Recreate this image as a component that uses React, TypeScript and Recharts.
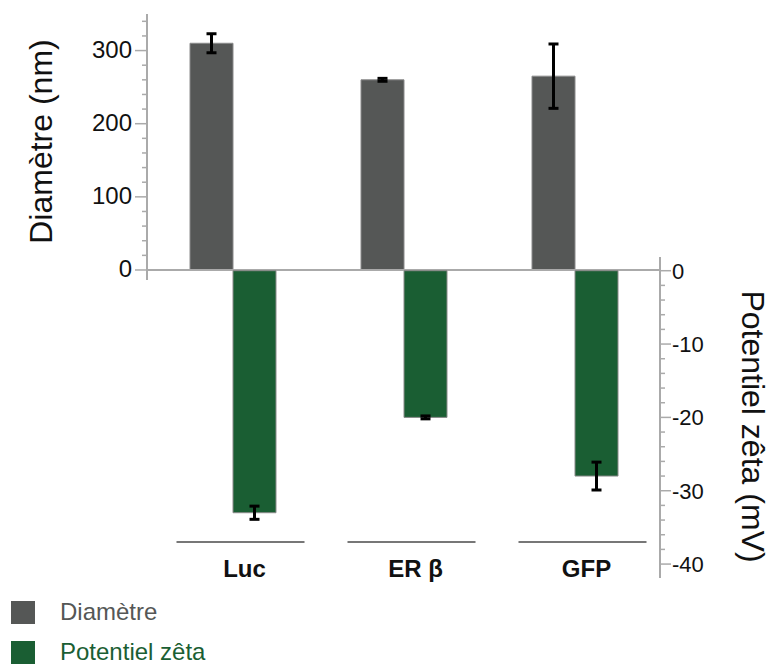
import { Bar, BarChart, ErrorBar, Label, Legend, ReferenceLine, XAxis, YAxis } from "recharts";

const categories = ["Luc", "ER β", "GFP"];
const diametre = [310, 260, 265];
const diametreErr = [13, 2, 44];
const zeta = [-33, -20, -28];
const zetaErr = [0.9, 0.2, 1.9];

const diametreTicks = [0, 20, 40, 60, 80, 100, 120, 140, 160, 180, 200, 220, 240, 260, 280, 300, 320, 340];
const zetaTicks = [0, -2, -4, -6, -8, -10, -12, -14, -16, -18, -20, -22, -24, -26, -28, -30, -32, -34, -36, -38, -40];

const GRAY = "#555756";
const GREEN = "#1a5e33";
const AXIS = "#aaaaaa";
const FONT = "'Liberation Sans', Arial, sans-serif";

const topRows = categories.map((name, i) => ({
  name,
  diametre: diametre[i],
  diametreErr: diametreErr[i],
}));

const bottomRows = categories.map((name, i) => ({
  name,
  zeta: zeta[i],
  zetaErr: zetaErr[i],
}));

function LeftTick({ x, y, payload }: any) {
  const major = payload.value % 100 === 0;
  return (
    <g>
      <line x1={x - (major ? 12 : 5)} x2={x} y1={y} y2={y} stroke={AXIS} strokeWidth={1.5} />
      {major && (
        <text x={x - 15} y={y} dy="0.3em" textAnchor="end" fontSize={24} fontFamily={FONT} fill="#111">
          {payload.value}
        </text>
      )}
    </g>
  );
}

function RightTick({ x, y, payload }: any) {
  const major = payload.value % 10 === 0;
  return (
    <g>
      <line x1={x} x2={x + (major ? 11 : 5)} y1={y} y2={y} stroke={AXIS} strokeWidth={1.5} />
      {major && (
        <text x={x + 12} y={y} dy="0.36em" textAnchor="start" fontSize={22} fontFamily={FONT} fill="#111">
          {payload.value}
        </text>
      )}
    </g>
  );
}

// group rule + bold label, drawn above the axis line position
function CategoryTick({ x, y, payload }: any) {
  return (
    <g>
      <line x1={x + 8 - 64} x2={x + 8 + 64} y1={y - 36} y2={y - 36} stroke="#777" strokeWidth={2} />
      <text x={x + 12} y={y - 1.5} textAnchor="middle" fontSize={24} fontWeight="bold" fontFamily={FONT} fill="#111">
        {payload.value}
      </text>
    </g>
  );
}

function LeftTitle({ viewBox }: any) {
  const cx = viewBox.x + 40.5;
  const cy = viewBox.y + viewBox.height / 2 - 5.5;
  return (
    <text x={cx} y={cy} transform={`rotate(-90, ${cx}, ${cy})`} textAnchor="middle" dominantBaseline="central" fontSize={32} fontFamily={FONT} fill="#111">
      Diamètre (nm)
    </text>
  );
}

function RightTitle({ viewBox }: any) {
  const cx = viewBox.x + 93;
  const cy = viewBox.y + viewBox.height / 2 + 9;
  return (
    <text x={cx} y={cy} transform={`rotate(90, ${cx}, ${cy})`} textAnchor="middle" dominantBaseline="central" fontSize={32} fontFamily={FONT} fill="#111">
      Potentiel zêta (mV)
    </text>
  );
}

function LegendContent({ payload }: any) {
  return (
    <div style={{ fontFamily: FONT }}>
      {(payload || []).map((entry: any) => (
        <div key={entry.value} style={{ display: "flex", alignItems: "center", height: 40 }}>
          <span style={{ width: 24, height: 23, marginLeft: 11, background: entry.color }} />
          <span style={{ marginLeft: 25, fontSize: 24, lineHeight: "24px", color: entry.color }}>{entry.value}</span>
        </div>
      ))}
    </div>
  );
}

export default function App() {
  return (
    <div style={{ position: "absolute", left: 0, top: 0, width: 772, height: 664, background: "#fff" }}>
      <div style={{ position: "absolute", left: 0, top: 0 }}>
        <BarChart
          width={772}
          height={300}
          data={topRows}
          margin={{ top: 14, right: 112, bottom: 20, left: 0 }}
          barSize={43}
          barGap={0}
        >
          <XAxis dataKey="name" hide />
          <YAxis
            width={147}
            domain={[-13.7, 350]}
            ticks={diametreTicks}
            interval={0}
            axisLine={{ stroke: AXIS, strokeWidth: 2 }}
            tickLine={false}
            tickSize={0}
            tickMargin={0}
            tick={<LeftTick />}
            label={<Label content={<LeftTitle />} />}
          />
          <ReferenceLine y={0} stroke={AXIS} strokeWidth={2} />
          <Bar dataKey="diametre" name="Diamètre" fill={GRAY} stroke="#8a8a8a" strokeWidth={1} isAnimationActive={false}>
            <ErrorBar dataKey="diametreErr" width={5} strokeWidth={3} stroke="#000" isAnimationActive={false} />
          </Bar>
          <Bar dataKey="zeta" name="Potentiel zêta" fill={GREEN} isAnimationActive={false} />
        </BarChart>
      </div>
      <div style={{ position: "absolute", left: 0, top: 0 }}>
        <BarChart
          width={772}
          height={664}
          data={bottomRows}
          margin={{ top: 257, right: 0, bottom: 0, left: 147 }}
          barSize={43}
          barGap={0}
        >
          <XAxis
            dataKey="name"
            height={86}
            axisLine={false}
            tickLine={false}
            tickSize={0}
            tickMargin={0}
            interval={0}
            tick={<CategoryTick />}
          />
          <YAxis
            orientation="right"
            width={112}
            domain={[-41.9, 1.87]}
            ticks={zetaTicks}
            interval={0}
            axisLine={{ stroke: AXIS, strokeWidth: 2 }}
            tickLine={false}
            tickSize={0}
            tickMargin={0}
            tick={<RightTick />}
            label={<Label content={<RightTitle />} />}
          />
          <Bar dataKey="diametre" name="Diamètre" fill={GRAY} isAnimationActive={false} />
          <Bar dataKey="zeta" name="Potentiel zêta" fill={GREEN} stroke="#8a8a8a" strokeWidth={1} isAnimationActive={false}>
            <ErrorBar dataKey="zetaErr" width={5} strokeWidth={3} stroke="#000" isAnimationActive={false} />
          </Bar>
          <Legend
            layout="vertical"
            align="center"
            verticalAlign="middle"
            wrapperStyle={{ left: 0, top: 592, width: 300 }}
            content={<LegendContent />}
          />
        </BarChart>
      </div>
    </div>
  );
}
